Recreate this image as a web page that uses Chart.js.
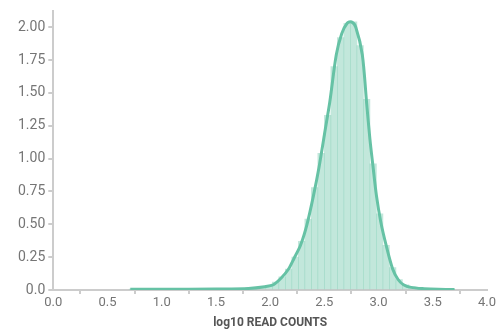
<!DOCTYPE html>
<html>
<head>
<meta charset="utf-8">
<script src="https://cdn.jsdelivr.net/npm/chart.js@4"></script>
<style>
  html, body { margin: 0; padding: 0; background: #fff; }
  #wrap { width: 500px; height: 333px; }
</style>
</head>
<body>
<div id="wrap"><canvas id="histCanvas" width="500" height="333"></canvas></div>
<script>
// histogram of log10 read counts + density curve

// bin centres (width 0.06) and bar heights
var binCenters = [0.73, 0.79, 0.85, 0.91, 0.97, 1.03, 1.09, 1.15, 1.21, 1.27,
                  1.33, 1.39, 1.45, 1.51, 1.57, 1.63, 1.69, 1.75, 1.81, 1.87,
                  1.93, 1.99, 2.05, 2.11, 2.17, 2.23, 2.29, 2.35, 2.41, 2.47,
                  2.53, 2.59, 2.65, 2.71, 2.77, 2.83, 2.89, 2.95, 3.01, 3.07,
                  3.13, 3.19, 3.25, 3.31, 3.37, 3.43, 3.49, 3.55, 3.61, 3.67];
var binHeights = [0.006, 0.005, 0.006, 0.005, 0.006, 0.006, 0.005, 0.006, 0.007, 0.006,
                  0.007, 0.008, 0.007, 0.009, 0.009, 0.010, 0.011, 0.012, 0.014, 0.018,
                  0.024, 0.035, 0.06, 0.10, 0.16, 0.25, 0.37, 0.54, 0.78, 1.04,
                  1.33, 1.70, 1.92, 2.03, 2.04, 1.86, 1.45, 0.96, 0.58, 0.34,
                  0.17, 0.08, 0.04, 0.022, 0.014, 0.010, 0.007, 0.005, 0.004, 0.003];

// density curve
var kdeX = [0.71, 1.0, 1.5, 1.8, 1.95, 2.03, 2.10, 2.17, 2.22, 2.28,
            2.34, 2.40, 2.45, 2.50, 2.55, 2.61, 2.66, 2.71, 2.75, 2.79,
            2.85, 2.89, 2.92, 2.95, 2.98, 3.02, 3.07, 3.13, 3.18, 3.23,
            3.30, 3.42, 3.55, 3.70];
var kdeY = [0.005, 0.005, 0.008, 0.012, 0.025, 0.04, 0.09, 0.16, 0.24, 0.34,
            0.50, 0.72, 0.93, 1.18, 1.43, 1.79, 1.95, 2.03, 2.04, 2.00,
            1.79, 1.42, 1.15, 0.93, 0.72, 0.52, 0.34, 0.16, 0.08, 0.04,
            0.02, 0.01, 0.005, 0.003];

var xTicks = [0.0, 0.5, 1.0, 1.5, 2.0, 2.5, 3.0, 3.5, 4.0];
var yTicks = [0.0, 0.25, 0.5, 0.75, 1.0, 1.25, 1.5, 1.75, 2.0];

var green = '#66c2a5';
var axisGrey = '#cccccc';
var labelGrey = '#757575';

var histData = binCenters.map(function (x, i) { return { x: x, y: binHeights[i] }; });
var kdeData = kdeX.map(function (x, i) { return { x: x, y: kdeY[i] }; });

var ctx = document.getElementById('histCanvas').getContext('2d');
var chart = new Chart(ctx, {
    type: 'bar',
    data: {
        datasets: [{
            type: 'line',
            label: 'density',
            data: kdeData,
            borderColor: green,
            borderWidth: 3,
            pointRadius: 0,
            tension: 0.3,
            fill: false,
            order: 0
        }, {
            type: 'bar',
            label: 'histogram',
            data: histData,
            backgroundColor: 'rgba(102,194,165,0.4)',
            borderWidth: 0,
            barPercentage: 1.0,
            categoryPercentage: 1.0,
            order: 1
        }]
    },
    options: {
        responsive: false,
        animation: false,
        layout: { padding: { top: 7, right: 13, left: 15, bottom: 3 } },
        plugins: {
            legend: { display: false },
            tooltip: { enabled: false }
        },
        scales: {
            x: {
                type: 'linear',
                min: 0,
                max: 4,
                offset: false,
                afterBuildTicks: function (axis) {
                    axis.ticks = xTicks.map(function (v) { return { value: v }; });
                },
                grid: { drawOnChartArea: false, drawTicks: true, tickLength: 4, color: axisGrey, lineWidth: 2 },
                border: { color: axisGrey, width: 2 },
                ticks: {
                    color: labelGrey,
                    font: { family: 'Roboto', size: 13 },
                    padding: 1,
                    maxRotation: 0,
                    callback: function (v) { return v.toFixed(1); }
                },
                title: {
                    display: true,
                    text: 'log10 READ COUNTS',
                    color: '#555555',
                    font: { family: 'Roboto', size: 12, weight: 'bold' },
                    padding: { top: 4, bottom: 0 }
                }
            },
            y: {
                type: 'linear',
                min: 0,
                max: 2.12,
                afterBuildTicks: function (axis) {
                    axis.ticks = yTicks.map(function (v) { return { value: v }; });
                },
                grid: { drawOnChartArea: false, drawTicks: true, tickLength: 5, color: axisGrey, lineWidth: 2 },
                border: { color: axisGrey, width: 2 },
                ticks: {
                    color: labelGrey,
                    font: { family: 'Roboto', size: 14 },
                    padding: 3,
                    callback: function (v) { return v === 0 ? '0.0' : v.toFixed(2); }
                }
            }
        }
    }
});
</script>
</body>
</html>
